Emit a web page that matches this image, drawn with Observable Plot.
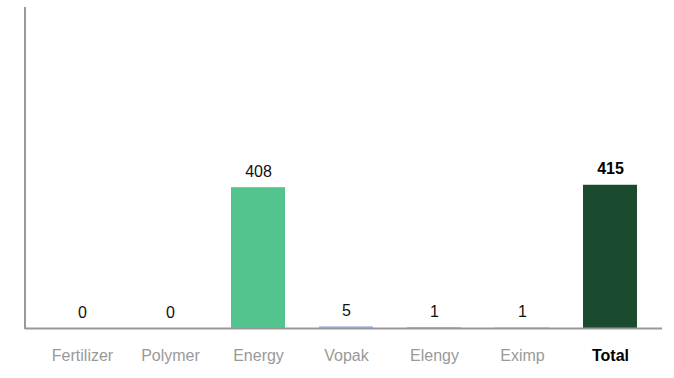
<!DOCTYPE html>
<html>
<head>
<meta charset="utf-8">
<script src="https://cdn.jsdelivr.net/npm/d3@7"></script>
<script src="https://cdn.jsdelivr.net/npm/@observablehq/plot@0.6"></script>
<style>
  html, body { margin: 0; padding: 0; background: #fff; }
  #chart { width: 674px; height: 378px; }
</style>
</head>
<body>
<div id="chart"></div>
<script>
const categories = ["Fertilizer", "Polymer", "Energy", "Vopak", "Elengy", "Eximp", "Total"];
const values = [0, 0, 408, 5, 1, 1, 415];
const colors = ["#53c48e", "#53c48e", "#53c48e", "#9bbbea", "#363b47", "#d75d9b", "#1b4b2f"];

const data = categories.map((c, i) => ({category: c, value: values[i], color: colors[i], total: c === "Total"}));
const regular = data.filter(d => !d.total);
const totals = data.filter(d => d.total);

const plot = Plot.plot({
  width: 674,
  height: 378,
  marginTop: 7,
  marginBottom: 50,
  marginLeft: 25,
  marginRight: 12,
  style: {fontFamily: "Liberation Sans, Arial, sans-serif", background: "#fff"},
  x: {domain: categories, paddingInner: 0.39, paddingOuter: 0.314, align: 0.545, label: null},
  y: {domain: [0, 930], axis: null},
  marks: [
    Plot.barY(data, {x: "category", y: "value", fill: "color"}),
    Plot.ruleY([0], {stroke: "#999", strokeWidth: 2}),
    Plot.text(regular, {
      x: "category", y: "value", text: d => String(d.value),
      dy: -11, lineAnchor: "bottom", fontSize: 16, fill: "#111"
    }),
    Plot.text(totals, {
      x: "category", y: "value", text: d => String(d.value),
      dy: -11, lineAnchor: "bottom", fontSize: 16, fill: "#000", fontWeight: "bold"
    }),
    Plot.axisX({
      tickSize: 0, tickPadding: 21, fontSize: 16, label: null,
      fill: "#999"
    })
  ]
});

// left axis line from the plot's y range
const ys = plot.scale("y");
const [yb, yt] = ys.range;
d3.select(plot).append("line")
  .attr("x1", 25).attr("x2", 25)
  .attr("y1", yt).attr("y2", yb + 1)
  .attr("stroke", "#999").attr("stroke-width", 2);

// Style the Total tick label
d3.select(plot).selectAll("text")
  .each(function() {
    const t = d3.select(this);
    if (t.text() === "Total") t.attr("fill", "#000").attr("font-weight", "bold");
  });

document.getElementById("chart").appendChild(plot);
</script>
</body>
</html>
